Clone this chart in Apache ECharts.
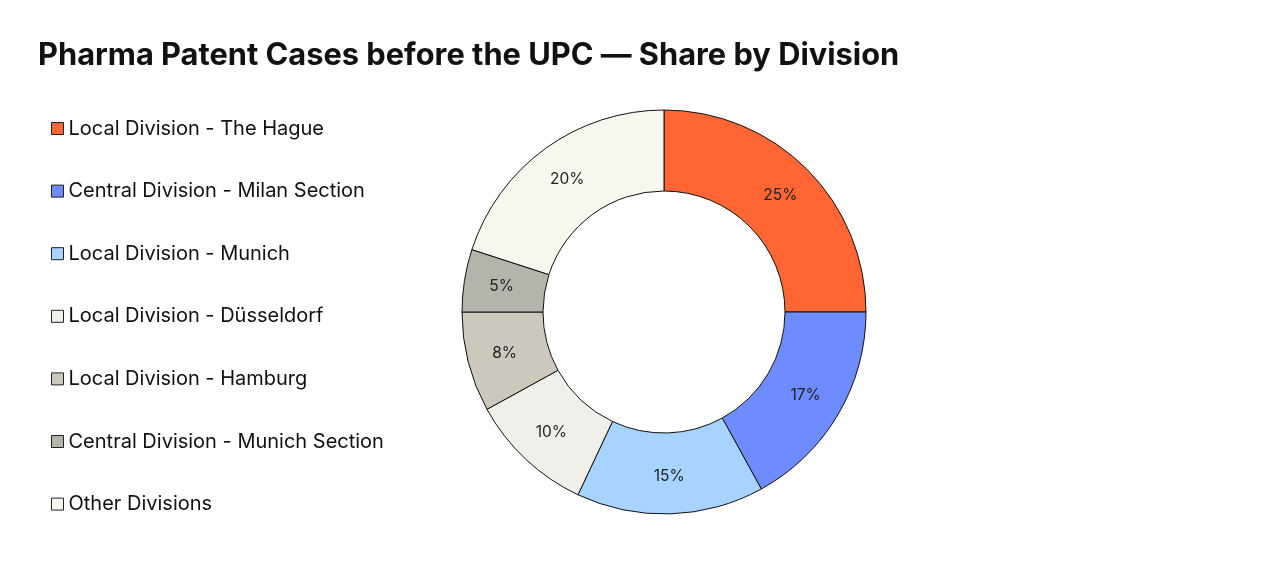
<!DOCTYPE html>
<html>
<head>
<meta charset="utf-8">
<script src="https://cdn.jsdelivr.net/npm/echarts@6/dist/echarts.min.js"></script>
<style>html,body{margin:0;padding:0;background:#fff}#c{width:1280px;height:562px}</style>
</head>
<body>
<div id="c"></div>
<script>
const categories = [
  "Local Division - The Hague",
  "Central Division - Milan Section",
  "Local Division - Munich",
  "Local Division - Düsseldorf",
  "Local Division - Hamburg",
  "Central Division - Munich Section",
  "Other Divisions"
];
const shares = [25, 17, 15, 10, 8, 5, 20];
const colors = ["#FF6633", "#6E8BFF", "#A6D3FF", "#F0F0EB", "#CCC9BC", "#B5B4A8", "#F7F7EC"];

const chart = echarts.init(document.getElementById('c'));
chart.setOption({
  backgroundColor: '#ffffff',
  animation: false,
  title: {
    text: 'Pharma Patent Cases before the UPC — Share by Division',
    left: 33,
    top: 35,
    textStyle: { fontFamily: 'Inter', fontWeight: 'bold', fontSize: 30.8, color: '#111' }
  },
  legend: {
    orient: 'vertical',
    left: 46,
    top: 113.5,
    itemWidth: 12,
    itemHeight: 12,
    itemGap: 42.6,
    icon: 'rect',
    itemStyle: { borderColor: '#222', borderWidth: 1 },
    textStyle: { fontFamily: 'Inter', fontSize: 20, color: '#111' },
    data: categories
  },
  series: [{
    type: 'pie',
    center: [664, 312],
    radius: [121, 202],
    startAngle: 90,
    clockwise: true,
    itemStyle: { borderColor: '#111', borderWidth: 1 },
    label: {
      show: true,
      position: 'inside',
      formatter: p => p.value + '%',
      fontFamily: 'Inter',
      fontSize: 15.5,
      color: '#222'
    },
    labelLine: { show: false },
    emphasis: { disabled: true },
    data: categories.map((n, i) => ({ name: n, value: shares[i], itemStyle: { color: colors[i] } }))
  }]
});
</script>
</body>
</html>
